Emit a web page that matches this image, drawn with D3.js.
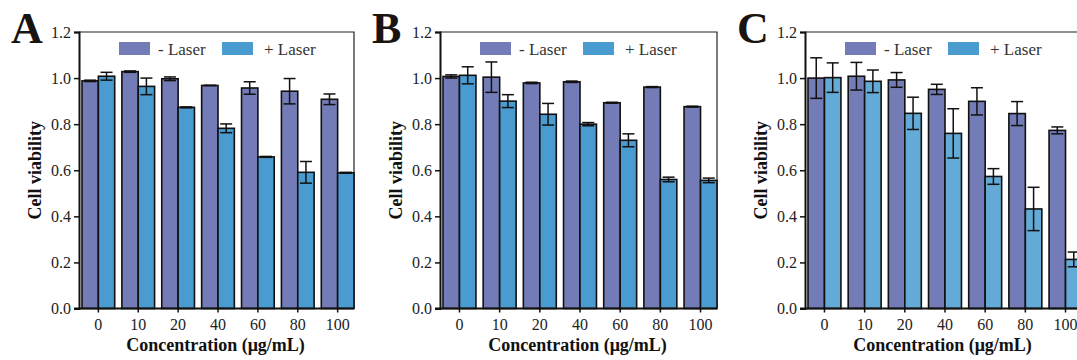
<!DOCTYPE html>
<html>
<head>
<meta charset="utf-8">
<script src="https://cdn.jsdelivr.net/npm/d3@7"></script>
<style>
  body { margin: 0; background: #fff; }
  svg { display: block; }
  svg text { font-family: "Liberation Serif", "Times New Roman", serif; }
</style>
</head>
<body>
<svg width="1077" height="360"></svg>
<script>
const concentrations = ['0', '10', '20', '40', '60', '80', '100'];
const yTicks = [0, 0.2, 0.4, 0.6, 0.8, 1.0, 1.2];
const seriesNames = ['- Laser', '+ Laser'];

// panel A
const aMinus = [0.988, 1.028, 0.997, 0.968, 0.957, 0.943, 0.908];
const aMinusErr = [0.003, 0.003, 0.008, 0, 0.027, 0.055, 0.023];
const aPlus = [1.008, 0.964, 0.873, 0.782, 0.658, 0.591, 0.589];
const aPlusErr = [0.017, 0.036, 0.002, 0.019, 0.002, 0.047, 0.002];
// panel B
const bMinus = [1.007, 1.004, 0.979, 0.984, 0.893, 0.961, 0.876];
const bMinusErr = [0.007, 0.066, 0.003, 0.003, 0.002, 0.002, 0.002];
const bPlus = [1.012, 0.9, 0.843, 0.8, 0.73, 0.56, 0.556];
const bPlusErr = [0.037, 0.028, 0.047, 0.007, 0.028, 0.01, 0.01];
// panel C
const cMinus = [1.0, 1.008, 0.992, 0.951, 0.899, 0.846, 0.773];
const cMinusErr = [0.088, 0.06, 0.032, 0.022, 0.059, 0.052, 0.015];
const cPlus = [1.002, 0.986, 0.847, 0.76, 0.573, 0.432, 0.213];
const cPlusErr = [0.064, 0.049, 0.07, 0.107, 0.034, 0.094, 0.032];

const panels = [
  { letter: 'A', left: 79, width: 275, minus: aMinus, minusErr: aMinusErr, plus: aPlus, plusErr: aPlusErr, plusColor: '#4a9bd0' },
  { letter: 'B', left: 440, width: 277, minus: bMinus, minusErr: bMinusErr, plus: bPlus, plusErr: bPlusErr, plusColor: '#4a9bd0' },
  { letter: 'C', left: 805, width: 277, minus: cMinus, minusErr: cMinusErr, plus: cPlus, plusErr: cPlusErr, plusColor: '#63aad6' }
];

const purple = '#737cb6';
const plotTop = 32, plotBottom = 308.5;
const serif = '"Liberation Serif", "Times New Roman", serif';
const svg = d3.select('svg');

const y = d3.scaleLinear().domain([0, 1.2]).range([plotBottom - plotTop, 0]);

panels.forEach((p) => {
  const g = svg.append('g').attr('transform', `translate(${p.left},${plotTop})`);
  const h = plotBottom - plotTop;

  const x = d3.scaleBand()
    .domain(concentrations)
    .range([3, p.width])
    .paddingInner(0.18)
    .paddingOuter(0);

  const xs = d3.scaleBand()
    .domain([0, 1])
    .range([0, x.bandwidth()]);

  const rows = concentrations.map((c, i) => ({
    c,
    vals: [
      { k: 0, v: p.minus[i], e: p.minusErr[i] },
      { k: 1, v: p.plus[i], e: p.plusErr[i] }
    ]
  }));

  // frame (top and right)
  g.append('path')
    .attr('d', `M0,0H${p.width}V${h}`)
    .attr('fill', 'none')
    .attr('stroke', '#222')
    .attr('stroke-width', 1.2);

  const groups = g.selectAll('.grp').data(rows).enter().append('g')
    .attr('class', 'grp')
    .attr('transform', (d) => `translate(${x(d.c)},0)`);

  groups.selectAll('rect').data((d) => d.vals).enter().append('rect')
    .attr('x', (d) => xs(d.k))
    .attr('y', (d) => y(d.v))
    .attr('width', xs.bandwidth())
    .attr('height', (d) => h - y(d.v))
    .attr('fill', (d) => d.k === 0 ? purple : p.plusColor)
    .attr('stroke', '#111')
    .attr('stroke-width', 1.6);

  // error bars
  const err = groups.selectAll('.err').data((d) => d.vals).enter().append('g')
    .attr('class', 'err')
    .attr('transform', (d) => `translate(${xs(d.k) + xs.bandwidth() / 2},0)`)
    .attr('stroke', '#111')
    .attr('stroke-width', 1.5);
  err.append('line')
    .attr('y1', (d) => y(d.v + d.e))
    .attr('y2', (d) => y(d.v - d.e));
  err.append('line')
    .attr('x1', -6).attr('x2', 6)
    .attr('y1', (d) => y(d.v + d.e))
    .attr('y2', (d) => y(d.v + d.e));
  err.append('line')
    .attr('x1', -6).attr('x2', 6)
    .attr('y1', (d) => y(d.v - d.e))
    .attr('y2', (d) => y(d.v - d.e));

  // axes
  const yAxis = g.append('g')
    .call(d3.axisLeft(y).tickValues(yTicks).tickFormat(d3.format('.1f')).tickSizeOuter(0).tickSize(5).tickPadding(3));
  const xAxis = g.append('g')
    .attr('transform', `translate(0,${h})`)
    .call(d3.axisBottom(x).tickSizeOuter(0).tickSize(4).tickPadding(6));
  [yAxis, xAxis].forEach((a) => {
    a.attr('font-family', serif);
    a.select('.domain').attr('stroke', '#111').attr('stroke-width', 2);
    a.selectAll('.tick line').attr('stroke', '#111').attr('stroke-width', 1.5);
    a.selectAll('text').attr('font-size', 16).attr('fill', '#222')
      .attr('font-family', serif);
  });
  xAxis.select('.domain').attr('d', `M-5,0H${p.width}`);

  // axis titles
  g.append('text')
    .attr('transform', `translate(-38,${h / 2}) rotate(-90)`)
    .attr('text-anchor', 'middle')
    .attr('font-family', serif)
    .attr('font-size', 18)
    .attr('font-weight', 'bold')
    .attr('fill', '#111')
    .text('Cell viability');
  g.append('text')
    .attr('x', (p.width - 2) / 2)
    .attr('y', h + 42)
    .attr('text-anchor', 'middle')
    .attr('font-family', serif)
    .attr('font-size', 18)
    .attr('font-weight', 'bold')
    .attr('fill', '#111')
    .text('Concentration (μg/mL)');

  // panel letter
  g.append('text')
    .attr('x', -68)
    .attr('y', 11)
    .attr('font-family', serif)
    .attr('font-size', 44)
    .attr('font-weight', 'bold')
    .attr('fill', '#1a1410')
    .text(p.letter);

  // legend
  const legX = [40, 143];
  seriesNames.forEach((name, i) => {
    const lg = g.append('g').attr('transform', `translate(${legX[i]},10)`);
    lg.append('rect')
      .attr('width', 31).attr('height', 13)
      .attr('fill', i === 0 ? purple : '#4a9bd0');
    lg.append('text')
      .attr('x', i === 0 ? 39 : 42)
      .attr('y', 13)
      .attr('font-family', serif)
      .attr('font-size', 17)
      .attr('fill', '#333')
      .text(name);
  });
});
</script>
</body>
</html>
